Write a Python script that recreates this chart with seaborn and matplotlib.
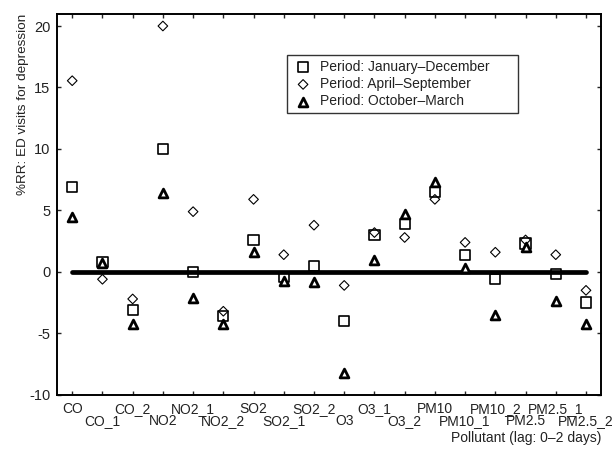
import numpy as np
import pandas as pd
import matplotlib
matplotlib.use('Agg')
import matplotlib.pyplot as plt
import seaborn as sns

# Werte
pollutants = ['CO', 'CO_1', 'CO_2', 'NO2', 'NO2_1', 'NO2_2', 'SO2', 'SO2_1', 'SO2_2',
              'O3', 'O3_1', 'O3_2', 'PM10', 'PM10_1', 'PM10_2', 'PM2.5', 'PM2.5_1', 'PM2.5_2']
jan_dec = [6.9, 0.8, -3.1, 10.0, 0.0, -3.6, 2.6, -0.4, 0.5,
           -4.0, 3.0, 3.9, 6.5, 1.35, -0.6, 2.3, -0.15, -2.5]
apr_sep = [15.55, -0.6, -2.2, 20.0, 4.9, -3.2, 5.9, 1.4, 3.8,
           -1.1, 3.2, 2.8, 5.9, 2.4, 1.6, 2.6, 1.4, -1.5]
oct_mar = [4.5, 0.7, -4.2, 6.4, -2.1, -4.2, 1.6, -0.7, -0.8,
           -8.2, 1.0, 4.7, 7.3, 0.35, -3.5, 2.0, -2.4, -4.2]
zero_line = [0.0] * len(pollutants)

period_labels = ['Period: January\u2013December', 'Period: April\u2013September', 'Period: October\u2013March']

pos = np.arange(len(pollutants))
df = pd.DataFrame({'pos': pos, 'jan_dec': jan_dec, 'apr_sep': apr_sep,
                   'oct_mar': oct_mar, 'zero': zero_line})

sns.set_style('ticks')
plt.rcParams['font.family'] = ['Liberation Sans', 'DejaVu Sans']
plt.rcParams['axes.unicode_minus'] = False
txt = '#222222'

fig = plt.figure(figsize=(6.14, 4.57), dpi=100)
ax = fig.add_axes([0.093, 0.136, 0.886, 0.834])

# dicke Nulllinie
sns.lineplot(data=df, x='pos', y='zero', color='black', linewidth=3.4, ax=ax,
             solid_capstyle='round', legend=False, zorder=1)

sns.scatterplot(data=df, x='pos', y='jan_dec', marker='s', s=55, facecolor='none',
                edgecolor='black', linewidth=1.2, label=period_labels[0], ax=ax, zorder=3)
sns.scatterplot(data=df, x='pos', y='apr_sep', marker='D', s=24, facecolor='none',
                edgecolor='black', linewidth=0.8, label=period_labels[1], ax=ax, zorder=4)
sns.scatterplot(data=df, x='pos', y='oct_mar', marker='^', s=40, facecolor='white',
                edgecolor='black', linewidth=2.0, label=period_labels[2], ax=ax, zorder=5)

ax.set_xlim(-0.5, 17.5)
ax.set_ylim(-10, 21)
ax.set_yticks([-10, -5, 0, 5, 10, 15, 20])

even = pos[::2]
odd = pos[1::2]
ax.set_xticks(even, labels=[pollutants[i] for i in even])
ax.set_xticks(odd, labels=[pollutants[i] for i in odd], minor=True)
ax.tick_params(axis='both', which='both', direction='in', length=3, width=1,
               top=True, right=True, labelsize=10.5, labelcolor=txt, pad=5)
ax.tick_params(axis='x', which='both', labelsize=10)
ax.tick_params(axis='x', which='minor', pad=14)

for sp in ax.spines.values():
    sp.set_linewidth(1.4)
    sp.set_color('black')

ax.set_xlabel('Pollutant (lag: 0\u20132 days)', loc='right', fontsize=10, color=txt, labelpad=2)
ax.set_ylabel('%RR: ED visits for depression', loc='top', fontsize=9.7, color=txt, labelpad=0)

leg = ax.legend(loc='upper left', bbox_to_anchor=(0.4228, 0.74, 0.4246, 0.152), mode='expand',
                fontsize=10, frameon=True, fancybox=False, edgecolor='black', borderpad=0.35,
                handletextpad=0.4, labelspacing=0.24, handlelength=1.6,
                borderaxespad=0)
leg.get_frame().set_linewidth(1.0)
for t in leg.get_texts():
    t.set_color(txt)

fig.savefig('out.png', dpi=100)
